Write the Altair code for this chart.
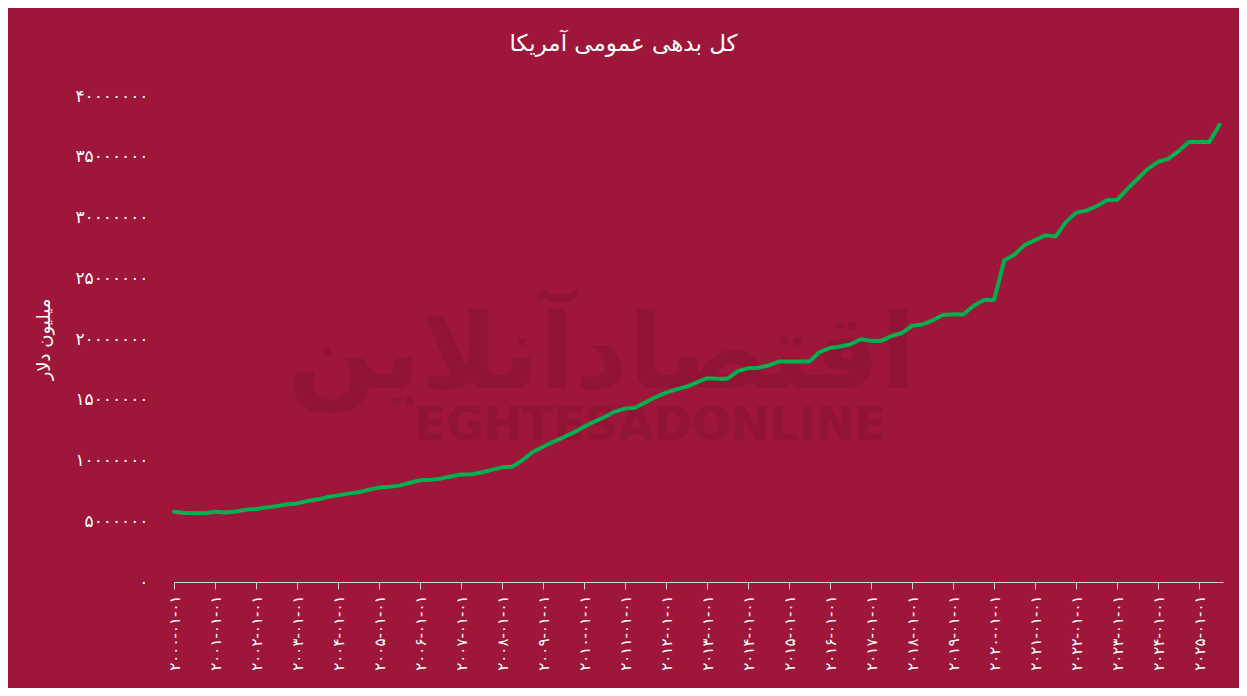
import altair as alt
import pandas as pd

# ---- data (US total public debt, millions of dollars, quarterly) ----
dates = pd.date_range("2000-01-01", "2025-07-01", freq="QS").strftime("%Y-%m-%d").tolist()
debt = [
    5773392, 5685938, 5674178, 5662216,
    5773740, 5726815, 5807463, 5943439,
    6006032, 6126469, 6228236, 6405707,
    6460776, 6670121, 6783231, 6998005,
    7131068, 7274335, 7379053, 7596144,
    7776939, 7836496, 7932710, 8170424,
    8371156, 8420042, 8507024, 8680224,
    8849665, 8867675, 9007653, 9229172,
    9437594, 9492006, 10024725, 10699805,
    11126941, 11545275, 11909829, 12311350,
    12773123, 13201790, 13561623, 14025215,
    14270114, 14343088, 14790340, 15222940,
    15582079, 15855519, 16066241, 16432730,
    16771607, 16738184, 16738184, 17351970,
    17601227, 17632606, 17824071, 18141444,
    18152056, 18151998, 18150618, 18922179,
    19264939, 19381591, 19573445, 19976827,
    19846415, 19844554, 20244900, 20492874,
    21089643, 21195070, 21516058, 21974096,
    22027880, 22023492, 22719402, 23201380,
    23223813, 26477170, 26945391, 27747798,
    28132570, 28529436, 28428919, 29617215,
    30400960, 30568582, 30928912, 31419689,
    31458438, 32332274, 33167334, 34001494,
    34586533, 34831634, 35464674, 36218605,
    36214310, 36214310, 37637553,
]
tick_years = list(range(2000, 2026))
y_ticks = [0, 5000000, 10000000, 15000000, 20000000, 25000000, 30000000, 35000000, 40000000]

title_text = "کل بدهی عمومی آمریکا"
y_title = "میلیون دلار"
wm_fa = "اقتصادآنلاین"
wm_en = "EGHTESADONLINE"

BG = "#9E1639"
LINE = "#00B050"
FONT = "DejaVu Sans"

FA_DIGITS = "۰۱۲۳۴۵۶۷۸۹"


def fa(expr):
    s = expr
    for d in range(10):
        s = f"join(split({s}, '{d}'), '{FA_DIGITS[d]}')"
    return s


df = pd.DataFrame({"date": dates, "debt": debt})

x_enc = alt.X(
    "date:T",
    scale=alt.Scale(
        type="utc",
        domain=[alt.DateTime(year=2000, month=1, date=1, utc=True),
                alt.DateTime(year=2025, month=8, date=1, utc=True)],
    ),
    axis=alt.Axis(
        values=[alt.DateTime(year=y, month=1, date=1, utc=True) for y in tick_years],
        labelExpr=fa("utcFormat(datum.value, '%Y-%m-%d')"),
        labelAngle=-90,
        labelFontSize=15,
        labelColor="white",
        labelFont=FONT,
        labelPadding=6,
        labelOverlap=False,
        labelFlush=False,
        domainColor="#d6d6d6",
        tickColor="#d6d6d6",
        tickSize=7,
        grid=False,
        title=None,
    ),
)

y_enc = alt.Y(
    "debt:Q",
    scale=alt.Scale(domain=[0, 40000000], nice=False),
    axis=alt.Axis(
        values=y_ticks,
        labelExpr=fa("format(datum.value, 'd')"),
        labelFontSize=17,
        labelColor="white",
        labelFont=FONT,
        labelPadding=26,
        domain=False,
        ticks=False,
        grid=False,
        title=y_title,
        titleColor="white",
        titleFontSize=18,
        titleFont=FONT,
        titleFontWeight="normal",
        titlePadding=21,
    ),
)

line = alt.Chart(df).mark_line(color=LINE, strokeWidth=4, strokeCap="round", strokeJoin="round").encode(
    x=x_enc, y=y_enc
)

wm_df = pd.DataFrame({"fa": [wm_fa], "en": [wm_en]})
wm1 = alt.Chart(wm_df).mark_text(
    font=FONT, fontSize=104, fontWeight="bold", color="black", opacity=0.08, align="center", baseline="alphabetic"
).encode(text="fa:N", x=alt.value(428), y=alt.value(292))
wm2 = alt.Chart(wm_df).mark_text(
    font=FONT, fontSize=46, fontWeight="bold", color="black", opacity=0.08, align="center", baseline="middle",
).encode(text="en:N", x=alt.value(476), y=alt.value(330))

chart = alt.layer(wm1, wm2, line).properties(
    width=1049,
    height=486,
    background=BG,
    autosize=alt.AutoSizeParams(type="none"),
    padding={"left": 166, "top": 88, "right": 16, "bottom": 106},
    title=alt.TitleParams(
        text=title_text,
        color="white",
        fontSize=23,
        font=FONT,
        fontWeight="normal",
        anchor="middle",
        frame="group",
        dx=-75,
        offset=31,
    ),
).configure_view(stroke=None)

chart.save("out.html", embed_options={"renderer": "svg", "actions": False})
